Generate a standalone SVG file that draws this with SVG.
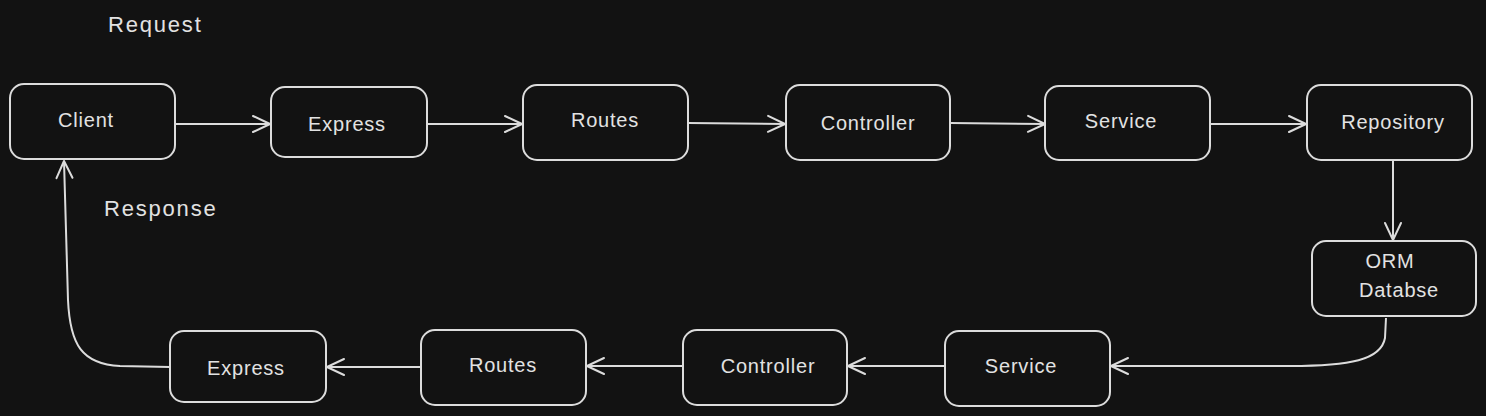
<svg xmlns="http://www.w3.org/2000/svg" width="1486" height="416" viewBox="0 0 1486 416">
<style>
.box{fill:#121212;stroke:#dcdcdc;stroke-width:2}
.lbl{font-family:"Liberation Sans",Arial,sans-serif;font-size:20px;letter-spacing:0.8px;fill:#e2e2e2;text-anchor:middle}
.cap{font-family:"Liberation Sans",Arial,sans-serif;font-size:22px;letter-spacing:1.8px;fill:#e2e2e2}
.edge{fill:none;stroke:#dcdcdc;stroke-width:2;marker-end:url(#ah)}
</style>
<defs>
<marker id="ah" markerUnits="userSpaceOnUse" markerWidth="24" markerHeight="24" viewBox="-20 -10 24 20" refX="0" refY="0" orient="auto">
<path d="M-17,-8 L0,0 L-17,8" fill="none" stroke="#dcdcdc" stroke-width="2" stroke-linecap="round" stroke-linejoin="round"/>
</marker>
</defs>
<rect width="1486" height="416" fill="#121212"/>
<text class="cap" x="108" y="32">Request</text>
<text class="cap" x="104" y="216">Response</text>
<g id="connectors">
<path class="edge" d="M175,124 L270,124"/>
<path class="edge" d="M427,124 L522,124"/>
<path class="edge" d="M688,123 L785,124"/>
<path class="edge" d="M950,123 L1045,124"/>
<path class="edge" d="M1210,124 L1306,124"/>
<path class="edge" d="M1393,160 L1393,240"/>
<path class="edge" d="M1386,318 L1385,338 C1381,360 1350,366 1290,366 L1111,366"/>
<path class="edge" d="M945,366 L848,366"/>
<path class="edge" d="M683,366 L587,366"/>
<path class="edge" d="M421,367 L327,367"/>
<path class="edge" d="M170,367 L120,366 C82,364 70,345 68,300 L64,161"/>
</g>
<g id="n-client"><rect class="box" x="10" y="84" width="165" height="75" rx="14"/><text class="lbl" x="86" y="127">Client</text></g>
<g id="n-express1"><rect class="box" x="271" y="87" width="156" height="70" rx="14"/><text class="lbl" x="347" y="131">Express</text></g>
<g id="n-routes1"><rect class="box" x="523" y="85" width="165" height="75" rx="14"/><text class="lbl" x="605" y="127">Routes</text></g>
<g id="n-controller1"><rect class="box" x="786" y="85" width="164" height="75" rx="14"/><text class="lbl" x="868" y="130">Controller</text></g>
<g id="n-service1"><rect class="box" x="1045" y="86" width="165" height="74" rx="14"/><text class="lbl" x="1121" y="128">Service</text></g>
<g id="n-repository"><rect class="box" x="1307" y="85" width="165" height="75" rx="14"/><text class="lbl" x="1393" y="129">Repository</text></g>
<g id="n-orm"><rect class="box" x="1312" y="241" width="164" height="75" rx="14"/><text class="lbl" x="1390" y="268">ORM</text><text class="lbl" x="1399" y="297">Databse</text></g>
<g id="n-express2"><rect class="box" x="170" y="331" width="156" height="71" rx="14"/><text class="lbl" x="246" y="375">Express</text></g>
<g id="n-routes2"><rect class="box" x="421" y="330" width="165" height="75" rx="14"/><text class="lbl" x="503" y="372">Routes</text></g>
<g id="n-controller2"><rect class="box" x="683" y="330" width="164" height="75" rx="14"/><text class="lbl" x="768" y="373">Controller</text></g>
<g id="n-service2"><rect class="box" x="945" y="331" width="165" height="75" rx="14"/><text class="lbl" x="1021" y="373">Service</text></g>
</svg>
